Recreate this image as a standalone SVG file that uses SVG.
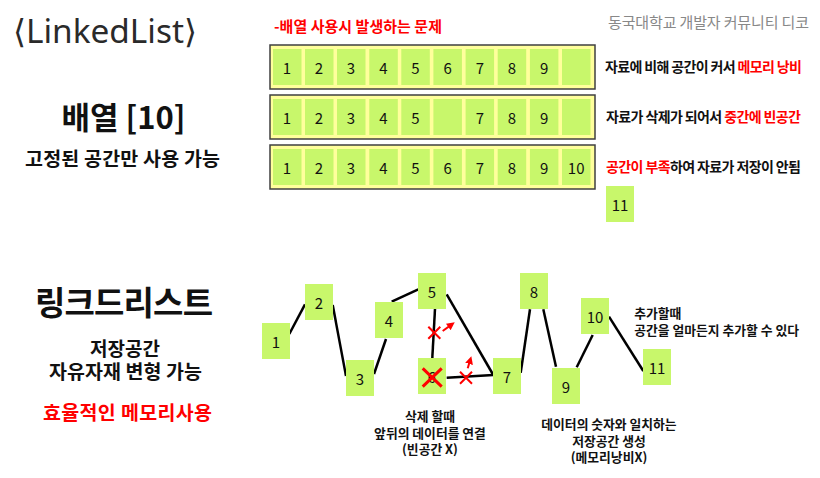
<svg xmlns="http://www.w3.org/2000/svg" width="820" height="478" viewBox="0 0 820 478">
<style>
.k{font-family:"Noto Sans CJK KR","Noto Sans",sans-serif}
.row{fill:#ffff9c;stroke:#404040;stroke-width:1.5}
.cell{fill:#c8f76b}
.num{font-family:"Noto Sans CJK KR","Noto Sans",sans-serif;font-size:15px;fill:#111;text-anchor:middle;dominant-baseline:central}
.note{font-family:"Noto Sans CJK KR",sans-serif;font-size:14px;font-weight:bold;fill:#111;dominant-baseline:central}
.red{fill:#ff0000}
.ln{stroke:#000;stroke-width:2.5;fill:none}
.rx{stroke:#ff0000;stroke-width:2;fill:none}
.c{text-anchor:middle}
</style>
<defs>
<marker id="ah" viewBox="0 0 10 10" refX="5" refY="5" markerWidth="4" markerHeight="4" orient="auto-start-reverse">
<path d="M0,0 L10,5 L0,10 z" fill="#ff0000"/>
</marker>
</defs>

<text x="13" y="43" font-family="Noto Sans,DejaVu Sans,sans-serif" font-size="33" fill="#2a2a2a" textLength="184" lengthAdjust="spacingAndGlyphs">⟨LinkedList⟩</text>
<text x="274" y="25" class="k" font-size="15" font-weight="bold" fill="#ff0000" dominant-baseline="central" textLength="168">-배열 사용시 발생하는 문제</text>
<text x="608" y="21" class="k" font-size="15" fill="#888" dominant-baseline="central" textLength="201">동국대학교 개발자 커뮤니티 디코</text>

<text x="123.5" y="115" class="k c" font-size="31" font-weight="bold" fill="#111" dominant-baseline="central">배열 [10]</text>
<text x="122.5" y="157" class="k c" font-size="19.5" font-weight="bold" fill="#111" dominant-baseline="central" textLength="195">고정된 공간만 사용 가능</text>

<g id="array-row1">
<rect class="row" x="270" y="45" width="325" height="44"/>
<rect class="cell" x="273" y="49" width="28.5" height="36"/><text class="num" x="287" y="67">1</text>
<rect class="cell" x="305" y="49" width="28.5" height="36"/><text class="num" x="319" y="67">2</text>
<rect class="cell" x="337" y="49" width="28.5" height="36"/><text class="num" x="351" y="67">3</text>
<rect class="cell" x="369.3" y="49" width="28.5" height="36"/><text class="num" x="383.5" y="67">4</text>
<rect class="cell" x="401.3" y="49" width="28.5" height="36"/><text class="num" x="415.5" y="67">5</text>
<rect class="cell" x="433.4" y="49" width="28.5" height="36"/><text class="num" x="447.6" y="67">6</text>
<rect class="cell" x="465.6" y="49" width="28.5" height="36"/><text class="num" x="479.8" y="67">7</text>
<rect class="cell" x="497.7" y="49" width="28.5" height="36"/><text class="num" x="511.9" y="67">8</text>
<rect class="cell" x="529.9" y="49" width="28.5" height="36"/><text class="num" x="544.1" y="67">9</text>
<rect class="cell" x="562" y="49" width="28.5" height="36"/>
</g>
<g id="array-row2">
<rect class="row" x="270" y="95" width="325" height="44"/>
<rect class="cell" x="273" y="99" width="28.5" height="36"/><text class="num" x="287" y="117">1</text>
<rect class="cell" x="305" y="99" width="28.5" height="36"/><text class="num" x="319" y="117">2</text>
<rect class="cell" x="337" y="99" width="28.5" height="36"/><text class="num" x="351" y="117">3</text>
<rect class="cell" x="369.3" y="99" width="28.5" height="36"/><text class="num" x="383.5" y="117">4</text>
<rect class="cell" x="401.3" y="99" width="28.5" height="36"/><text class="num" x="415.5" y="117">5</text>
<rect class="cell" x="433.4" y="99" width="28.5" height="36"/>
<rect class="cell" x="465.6" y="99" width="28.5" height="36"/><text class="num" x="479.8" y="117">7</text>
<rect class="cell" x="497.7" y="99" width="28.5" height="36"/><text class="num" x="511.9" y="117">8</text>
<rect class="cell" x="529.9" y="99" width="28.5" height="36"/><text class="num" x="544.1" y="117">9</text>
<rect class="cell" x="562" y="99" width="28.5" height="36"/>
</g>
<g id="array-row3">
<rect class="row" x="270" y="145" width="325" height="44"/>
<rect class="cell" x="273" y="149" width="28.5" height="36"/><text class="num" x="287" y="167">1</text>
<rect class="cell" x="305" y="149" width="28.5" height="36"/><text class="num" x="319" y="167">2</text>
<rect class="cell" x="337" y="149" width="28.5" height="36"/><text class="num" x="351" y="167">3</text>
<rect class="cell" x="369.3" y="149" width="28.5" height="36"/><text class="num" x="383.5" y="167">4</text>
<rect class="cell" x="401.3" y="149" width="28.5" height="36"/><text class="num" x="415.5" y="167">5</text>
<rect class="cell" x="433.4" y="149" width="28.5" height="36"/><text class="num" x="447.6" y="167">6</text>
<rect class="cell" x="465.6" y="149" width="28.5" height="36"/><text class="num" x="479.8" y="167">7</text>
<rect class="cell" x="497.7" y="149" width="28.5" height="36"/><text class="num" x="511.9" y="167">8</text>
<rect class="cell" x="529.9" y="149" width="28.5" height="36"/><text class="num" x="544.1" y="167">9</text>
<rect class="cell" x="562" y="149" width="28.5" height="36"/><text class="num" x="576.2" y="167">10</text>
</g>
<g id="array-extra-11">
<rect class="cell" x="606" y="186" width="28" height="36"/><text class="num" x="620" y="204">11</text>
</g>

<text class="note" x="605" y="66" textLength="197">자료에 비해 공간이 커서 <tspan class="red">메모리 낭비</tspan></text>
<text class="note" x="606" y="116" textLength="195">자료가 삭제가 되어서 <tspan class="red">중간에 빈공간</tspan></text>
<text class="note" x="606" y="166" textLength="195"><tspan class="red">공간이 부족</tspan>하여 자료가 저장이 안됨</text>

<text x="124" y="301" class="k c" font-size="33" font-weight="bold" fill="#111" dominant-baseline="central" textLength="178">링크드리스트</text>
<text x="125" y="347" class="k c" font-size="19" font-weight="bold" fill="#111" dominant-baseline="central">저장공간</text>
<text x="125.5" y="370" class="k c" font-size="19.5" font-weight="bold" fill="#111" dominant-baseline="central" textLength="153">자유자재 변형 가능</text>
<text x="127.5" y="411" class="k c" font-size="19.5" font-weight="bold" fill="#ff0000" dominant-baseline="central" textLength="169">효율적인 메모리사용</text>

<g id="connectors">
<line class="ln" x1="289.3" y1="334" x2="305" y2="304.3"/>
<line class="ln" x1="332.7" y1="305" x2="346" y2="376"/>
<line class="ln" x1="374" y1="374" x2="386" y2="339"/>
<line class="ln" x1="391.7" y1="301.7" x2="418.3" y2="289.3"/>
<line class="ln" x1="435" y1="309" x2="432.3" y2="358"/>
<line class="ln" x1="446.7" y1="294.3" x2="493.3" y2="375"/>
<line class="ln" x1="446.7" y1="377.7" x2="493.3" y2="375"/>
<line class="ln" x1="520.7" y1="372.7" x2="530" y2="309.3"/>
<line class="ln" x1="543.3" y1="309.3" x2="556" y2="366.7"/>
<line class="ln" x1="576.7" y1="367.3" x2="592.7" y2="335"/>
<line class="ln" x1="609" y1="316.7" x2="643.3" y2="371"/>
</g>

<g id="n1"><rect class="cell" x="262" y="323" width="28" height="36"/><text class="num" x="276" y="341">1</text></g>
<g id="n2"><rect class="cell" x="305" y="284" width="28" height="36"/><text class="num" x="319" y="302">2</text></g>
<g id="n3"><rect class="cell" x="346" y="360" width="28" height="36"/><text class="num" x="360" y="378">3</text></g>
<g id="n4"><rect class="cell" x="375" y="302" width="28" height="36"/><text class="num" x="389" y="320">4</text></g>
<g id="n5"><rect class="cell" x="418" y="273" width="28" height="36"/><text class="num" x="432" y="291">5</text></g>
<g id="n6"><rect class="cell" x="418" y="358" width="28" height="36"/><text class="num" x="432" y="376">6</text>
<path d="M422.7,368.3 L441.7,386.7 M441.7,368.3 L422.7,386.7" stroke="#ff0000" stroke-width="3" fill="none"/></g>
<g id="n7"><rect class="cell" x="493" y="358" width="28" height="36"/><text class="num" x="507" y="376">7</text></g>
<g id="n8"><rect class="cell" x="520" y="273" width="28" height="36"/><text class="num" x="534" y="291">8</text></g>
<g id="n9"><rect class="cell" x="552" y="368" width="28" height="36"/><text class="num" x="566" y="386">9</text></g>
<g id="n10"><rect class="cell" x="581" y="298" width="28" height="36"/><text class="num" x="595" y="316">10</text></g>
<g id="n11"><rect class="cell" x="643" y="349" width="28" height="36"/><text class="num" x="657" y="367">11</text></g>

<g id="cut-marks">
<path class="rx" d="M428.3,326.7 L440.3,338.7 M440.3,326.7 L428.3,338.7"/>
<path class="rx" d="M460,371.7 L472,383.7 M472,371.7 L460,383.7"/>
<line class="rx" x1="442.7" y1="331" x2="451.5" y2="324.6" marker-end="url(#ah)"/>
<line class="rx" x1="467.7" y1="368.3" x2="470.2" y2="360" marker-end="url(#ah)"/>
</g>

<g class="k" font-size="12.8" font-weight="bold" fill="#111" dominant-baseline="central">
<text x="430" y="415" class="c">삭제 할때</text>
<text x="430" y="432" class="c">앞뒤의 데이터를 연결</text>
<text x="430" y="448.5" class="c">(빈공간 X)</text>
<text x="609" y="423.5" class="c">데이터의 숫자와 일치하는</text>
<text x="609" y="440" class="c">저장공간 생성</text>
<text x="609" y="456.5" class="c">(메모리낭비X)</text>
<text x="634.3" y="312">추가할때</text>
<text x="634.3" y="329">공간을 얼마든지 추가할 수 있다</text>
</g>
</svg>
